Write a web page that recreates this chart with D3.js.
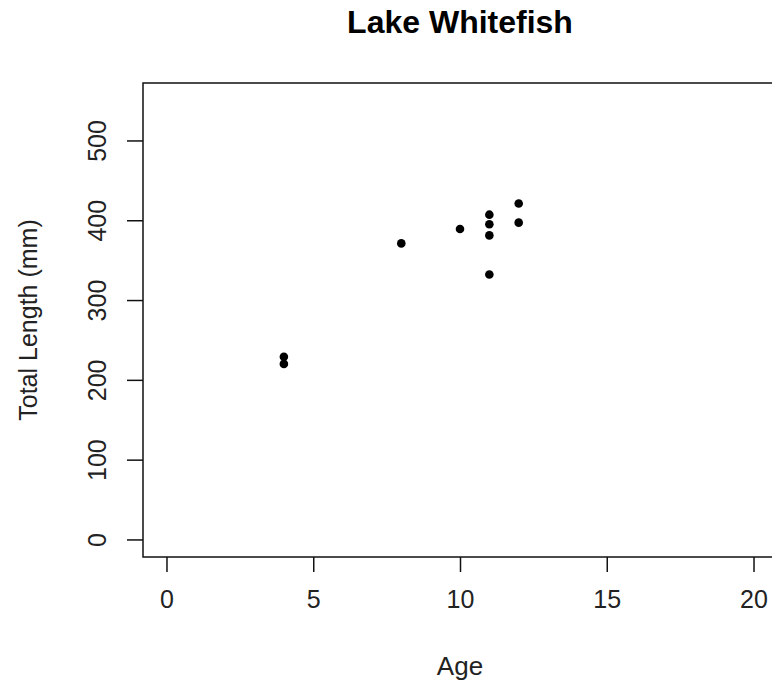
<!DOCTYPE html>
<html><head><meta charset="utf-8">
<script src="https://cdn.jsdelivr.net/npm/d3@7"></script>
<style>body{margin:0;background:#fff;}svg{display:block;}</style>
</head><body>
<svg id="c" width="772" height="685"></svg>
<script>
const ages = [4, 4, 8, 10, 11, 11, 11, 11, 12, 12];
const lengths = [229, 220, 371, 389, 407, 395, 381, 332, 421, 397];
const xTicks = [0, 5, 10, 15, 20];
const yTicks = [0, 100, 200, 300, 400, 500];
const title = "Lake Whitefish";
const xLabel = "Age";
const yLabel = "Total Length (mm)";

(function () {
const svg = d3.select("#c");
const font = "Liberation Sans, Arial, Helvetica, sans-serif";
const pL = 143, pR = 777, pT = 83, pB = 557;
const x = d3.scaleLinear().domain([-0.8, 20.8]).range([pL, pR]);
const y = d3.scaleLinear().domain([-22, 572]).range([pB, pT]);
const ink = "#111";

svg.append("rect").attr("x", pL).attr("y", pT).attr("width", pR - pL).attr("height", pB - pT)
  .attr("fill", "none").attr("stroke", ink).attr("stroke-width", 1.5);

const xAxis = d3.axisBottom(x).tickValues(xTicks).tickSize(15).tickPadding(18).tickFormat(d3.format("d"));
const gx = svg.append("g").attr("transform", `translate(0,${pB})`).call(xAxis);
gx.select(".domain").remove();
gx.selectAll(".tick line").attr("stroke", ink).attr("stroke-width", 1.5);
gx.selectAll(".tick text").attr("font-family", font).attr("font-size", 25).attr("fill", "#222");

const yAxis = d3.axisLeft(y).tickValues(yTicks).tickSize(16).tickPadding(0).tickFormat(d3.format("d"));
const gy = svg.append("g").attr("transform", `translate(${pL},0)`).call(yAxis);
gy.select(".domain").remove();
gy.selectAll(".tick line").attr("stroke", ink).attr("stroke-width", 1.5);
gy.selectAll(".tick text")
  .attr("font-family", font).attr("font-size", 25).attr("fill", "#222")
  .attr("x", null).attr("dy", null)
  .attr("text-anchor", "middle")
  .attr("transform", "translate(-37,0) rotate(-90)");

svg.append("g").selectAll("circle").data(ages.map((a, i) => [a, lengths[i]])).join("circle")
  .attr("cx", d => x(d[0])).attr("cy", d => y(d[1])).attr("r", 4.3).attr("fill", "#000");

svg.append("text").attr("x", 460).attr("y", 33).attr("text-anchor", "middle")
  .attr("font-family", font).attr("font-weight", "bold").attr("font-size", 32).attr("fill", "#000").text(title);
svg.append("text").attr("x", 460).attr("y", 675).attr("text-anchor", "middle")
  .attr("font-family", font).attr("font-size", 26).attr("fill", "#222").text(xLabel);
svg.append("text").attr("transform", "translate(37,320) rotate(-90)").attr("text-anchor", "middle")
  .attr("font-family", font).attr("font-size", 25).attr("fill", "#222").text(yLabel);
})();
</script>
</body></html>
